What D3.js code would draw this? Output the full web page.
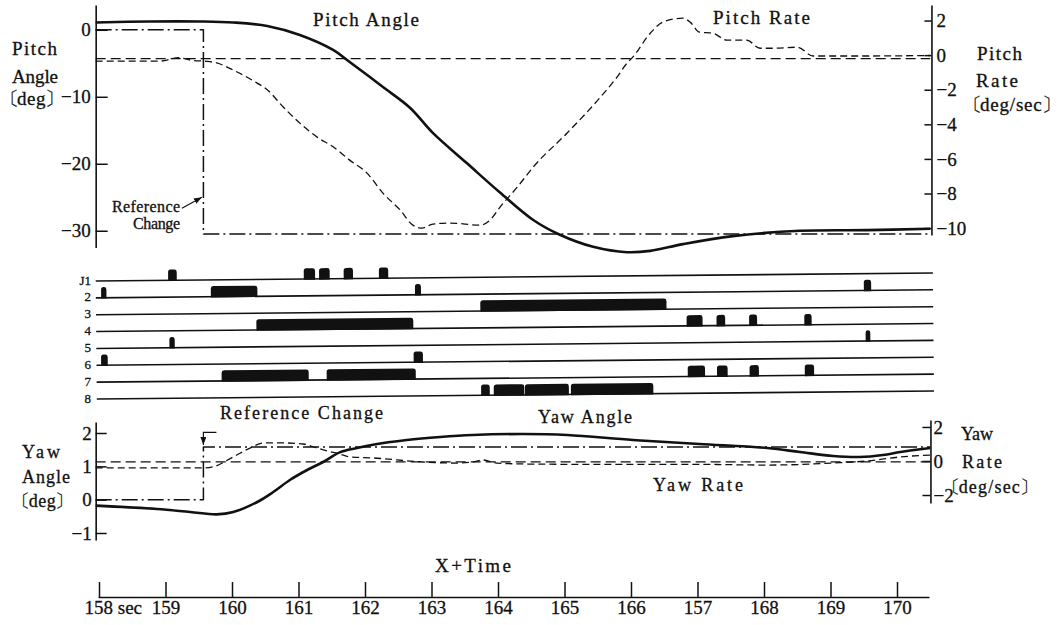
<!DOCTYPE html>
<html>
<head>
<meta charset="utf-8">
<script src="https://cdn.jsdelivr.net/npm/d3@7"></script>
<style>
  html, body { margin: 0; background: #fff; }
  svg text { font-family: "Liberation Serif", "DejaVu Serif", serif; fill: #111; stroke: #111; stroke-width: 0.3px; }
</style>
</head>
<body>
<svg id="chart" width="1061" height="625"></svg>
<script>
// ---- time axis ----
const timeTicks = [158, 159, 160, 161, 162, 163, 164, 165, 166, 167, 168, 169, 170];
const timeTickLabels = ["158 sec", "159", "160", "161", "162", "163", "164", "165", "166", "157", "168", "169", "170"];

// ---- pitch channel ----
const pitchAngleTicks = [0, -10, -20, -30];
const pitchRateTicks = [2, 0, -2, -4, -6, -8, -10];
const pitchTime = [157.95, 158.77, 159.52, 160.02, 160.53, 161.02, 161.52, 161.77, 162.27, 162.68, 163.02, 163.53,
  164.03, 164.53, 164.93, 165.43, 165.94, 166.29, 166.78, 167.53, 168.54, 169.55, 170.5];
const pitchAngle = [1.09, 1.24, 1.24, 1.09, 0.57, -0.78, -3.01, -4.81, -8.54, -11.67, -15.4, -19.9,
  -24.3, -28.4, -30.6, -32.4, -33.2, -33.0, -32.0, -30.8, -30.0, -29.9, -29.7];
const pitchRateTime = [157.95, 158.9, 159.2, 159.4, 159.59, 159.77, 160.02, 160.38, 160.53, 160.77, 161.02, 161.28,
  161.52, 161.77, 162.03, 162.27, 162.53, 162.72, 162.86, 163.02, 163.28, 163.73, 163.88, 164.03, 164.29, 164.53,
  165.04, 165.54, 165.79, 165.94, 166.03, 166.29, 166.48, 166.78, 166.89, 167.03, 167.23, 167.44, 167.74, 167.94,
  168.14, 168.5, 168.74, 169.5, 170.5];
const pitchRate = [-0.35, -0.35, -0.15, -0.3, -0.35, -0.45, -0.87, -1.62, -2.0, -3.0, -3.93, -4.74,
  -5.3, -6.07, -6.82, -7.98, -8.96, -9.83, -10.0, -9.77, -9.71, -9.83, -9.54, -8.79, -7.63, -6.47,
  -4.5, -2.43, -1.27, -0.46, -0.1, 1.27, 1.91, 2.14, 1.91, 1.33, 1.27, 0.87, 0.87, 0.4,
  0.4, 0.46, -0.05, -0.05, -0.02];
const pitchRefBefore = 0, pitchRefAfter = -30.5;
const pitchRateZero = -0.2;

// ---- reaction jet firings (start, end in seconds) ----
const jetRows = ["J1", "2", "3", "4", "5", "6", "7", "8"];
const jetJ1 = [[159.04, 159.17], [161.08, 161.25], [161.31, 161.47], [161.68, 161.82], [162.21, 162.35]];
const jet2 = [[158.03, 158.11], [159.68, 160.38], [162.75, 162.84], [169.50, 169.61]];
const jet3 = [[163.73, 166.53]];
const jet4 = [[160.36, 162.72], [166.83, 167.07], [167.28, 167.41], [167.77, 167.89], [168.60, 168.71]];
const jet5 = [[159.05, 159.13], [169.52, 169.59]];
const jet6 = [[158.02, 158.12], [162.72, 162.86]];
const jet7 = [[159.83, 161.14], [161.41, 162.75], [166.84, 167.10], [167.28, 167.44], [167.77, 167.91], [168.60, 168.74]];
const jet8 = [[163.73, 163.86], [163.92, 164.38], [164.39, 165.05], [165.08, 166.32]];

// ---- yaw channel ----
const yawAngleTicks = [2, 1, 0, -1];
const yawRateTicks = [2, 0, -2];
const yawTime = [157.95, 158.87, 159.37, 159.77, 160.02, 160.38, 160.62, 160.87, 161.13, 161.37, 161.62, 161.88,
  162.12, 162.63, 163.13, 163.62, 164.38, 165.04, 166.03, 167.03, 168.05, 168.54, 169.04, 169.44, 169.79, 170.05, 170.5];
const yawAngle = [-0.18, -0.28, -0.37, -0.44, -0.37, -0.07, 0.23, 0.59, 0.89, 1.13, 1.42, 1.55,
  1.65, 1.79, 1.88, 1.94, 1.97, 1.94, 1.79, 1.67, 1.55, 1.43, 1.31, 1.28, 1.34, 1.43, 1.55];
const yawRateTime = [157.95, 159.58, 159.71, 160.02, 160.27, 160.47, 160.77, 161.07, 161.28, 161.43, 161.62, 161.77,
  162.12, 162.87, 163.38, 163.62, 163.77, 163.98, 164.48, 165.53, 167.03, 168.05, 169.04, 169.55, 170.05, 170.5];
const yawRate = [-0.41, -0.41, -0.35, 0.24, 0.76, 1.06, 1.06, 1.0, 0.76, 0.59, 0.41, 0.24,
  0.18, -0.06, -0.12, -0.06, 0.06, -0.12, -0.18, -0.2, -0.2, -0.24, -0.12, 0.0, 0.24, 0.35];
const yawRefBefore = 0, yawRefAfter = 1.58;
const yawRateZero = -0.05;

const refChangeTime = 159.57;
const tStart = 157.95, tEnd = 170.5;

// ---- drawing ----
const ink = "#111";
const serif = '"Liberation Serif", "DejaVu Serif", serif';
const svg = d3.select("#chart");
const intFmt = d3.format("d");

const defs = svg.append("defs");
defs.append("marker").attr("id", "arrow").attr("viewBox", "0 0 8 6")
  .attr("refX", 8).attr("refY", 3).attr("markerWidth", 8).attr("markerHeight", 6)
  .attr("markerUnits", "userSpaceOnUse").attr("orient", "auto")
  .append("path").attr("d", "M0,0L8,3L0,6Z").attr("fill", ink);

const x = d3.scaleLinear().domain([158, 170]).range([99, 897]);
const axL = x(tStart);
const axR = x(tEnd) + 1.2;

const SOLID = { w: 2.6, dash: null };
const DASH = { w: 1.3, dash: "7,4" };
const ZERO = { w: 1.2, dash: "10,5" };
const DASHDOT = { w: 1.5, dash: "16,4,2,4" };

function drawSeries(g, ts, vs, y, style, curve) {
  const pts = ts.map((t, i) => [t, vs[i]]);
  g.append("path").datum(pts)
    .attr("fill", "none").attr("stroke", ink)
    .attr("stroke-width", style.w)
    .attr("stroke-dasharray", style.dash)
    .attr("stroke-linejoin", "round")
    .attr("d", d3.line().x(d => x(d[0])).y(d => y(d[1])).curve(curve || d3.curveMonotoneX));
}

function styleAxis(g, size) {
  g.selectAll("path.domain").attr("stroke", ink).attr("stroke-width", 1.6);
  g.selectAll(".tick line").attr("stroke", ink).attr("stroke-width", 1.5);
  g.selectAll(".tick text").attr("font-family", serif).attr("font-size", size).attr("fill", ink);
}

function label(txt, px, py, size, width, anchor) {
  const t = svg.append("text").attr("x", px).attr("y", py)
    .attr("font-size", size).attr("text-anchor", anchor || "start").text(txt);
  if (width) t.attr("textLength", width).attr("lengthAdjust", "spacing");
  return t;
}

// unit label wrapped in tortoise-shell brackets; px is where the opening bracket is drawn
function bracketLabel(inner, px, py, size, spacing) {
  const t = svg.append("text").attr("x", px - size * 0.55).attr("y", py).attr("font-size", size);
  t.append("tspan").text("〔");
  t.append("tspan").attr("dx", -size * 0.08).attr("letter-spacing", spacing).text(inner);
  t.append("tspan").attr("dx", -size * 0.05).text("〕");
  return t;
}

// ===== Pitch panel =====
const yPitch = d3.scaleLinear().domain([3.7, -32.5]).range([5, 247.5]);
const yPitchRate = d3.scaleLinear().domain([2.9, -10.4]).range([5, 235]);

const gPL = svg.append("g").attr("transform", `translate(${axL},0)`)
  .call(d3.axisLeft(yPitch).tickValues(pitchAngleTicks).tickFormat(intFmt)
    .tickSizeInner(-12).tickSizeOuter(0).tickPadding(5));
styleAxis(gPL, 19);
const gPR = svg.append("g").attr("transform", `translate(${axR},0)`)
  .call(d3.axisRight(yPitchRate).tickValues(pitchRateTicks).tickFormat(intFmt)
    .tickSizeInner(-7).tickSizeOuter(0).tickPadding(5));
styleAxis(gPR, 19);

const gP = svg.append("g");
drawSeries(gP, [tStart, tEnd], [pitchRateZero, pitchRateZero], yPitchRate, ZERO, d3.curveLinear);
drawSeries(gP, [tStart, refChangeTime, refChangeTime, tEnd],
  [pitchRefBefore, pitchRefBefore, pitchRefAfter, pitchRefAfter], yPitch, DASHDOT, d3.curveLinear);
drawSeries(gP, pitchRateTime, pitchRate, yPitchRate, DASH);
drawSeries(gP, pitchTime, pitchAngle, yPitch, SOLID, d3.curveCatmullRom.alpha(0.5));

// reference change note
const arrowTip = [x(refChangeTime) - 1.5, yPitch(-25)];
gP.append("line")
  .attr("x1", arrowTip[0] - 20).attr("y1", arrowTip[1] + 11)
  .attr("x2", arrowTip[0]).attr("y2", arrowTip[1])
  .attr("stroke", ink).attr("stroke-width", 1.1).attr("marker-end", "url(#arrow)");
label("Reference", 180, 212, 16, 68, "end");
label("Change", 180, 229, 16, 47, "end");

label("Pitch Angle", 313, 26, 19, 106);
label("Pitch Rate", 713, 24, 19, 97);
label("Pitch", 12, 55, 19, 45);
label("Angle", 12, 83, 19, 46);
bracketLabel("deg", 10, 105, 19, 0.5);
label("Pitch", 977, 60, 19, 45);
label("Rate", 976, 87, 19, 42);
bracketLabel("deg/sec", 973, 111, 19, 0.8);

// ===== Jet firing panel =====
const yJet = d3.scalePoint().domain(jetRows).range([281, 399]);
const jetFirings = [jetJ1, jet2, jet3, jet4, jet5, jet6, jet7, jet8];
const jetEnd = 170.54;
const gJ = svg.append("g").attr("transform", `rotate(-0.55, ${axL}, ${yJet("J1")})`);
function pulsePath(x0, x1, yb, h, r) {
  r = Math.min(r, (x1 - x0) / 2);
  return `M${x0},${yb}V${yb - h + r}Q${x0},${yb - h} ${x0 + r},${yb - h}H${x1 - r}Q${x1},${yb - h} ${x1},${yb - h + r}V${yb}Z`;
}
jetRows.forEach((row, i) => {
  const yb = yJet(row);
  gJ.append("line").attr("x1", axL).attr("x2", x(jetEnd)).attr("y1", yb).attr("y2", yb)
    .attr("stroke", ink).attr("stroke-width", 1.6);
  gJ.selectAll(null).data(jetFirings[i]).join("path")
    .attr("fill", ink)
    .attr("d", d => pulsePath(x(d[0]), x(d[1]), yb + 0.8, 11.5, 2.5));
  svg.append("text").attr("x", 91).attr("y", yb + 3.5).attr("text-anchor", "end")
    .attr("font-size", 13).text(row);
});

// ===== Yaw panel =====
const yYaw = d3.scaleLinear().domain([2.33, -1.21]).range([422, 540]);
const yYawRate = d3.scaleLinear().domain([2.41, -2.47]).range([420, 503]);

const gYL = svg.append("g").attr("transform", `translate(${axL},0)`)
  .call(d3.axisLeft(yYaw).tickValues(yawAngleTicks).tickFormat(intFmt)
    .tickSizeInner(-11).tickSizeOuter(0).tickPadding(4));
styleAxis(gYL, 19);
const gYR = svg.append("g").attr("transform", `translate(${axR - 1},0)`)
  .call(d3.axisRight(yYawRate).tickValues(yawRateTicks).tickFormat(intFmt)
    .tickSizeInner(-8).tickSizeOuter(0).tickPadding(3));
styleAxis(gYR, 19);

const gY = svg.append("g");
drawSeries(gY, [tStart, tEnd], [yawRateZero, yawRateZero], yYawRate, ZERO, d3.curveLinear);
drawSeries(gY, [tStart, refChangeTime, refChangeTime, tEnd],
  [yawRefBefore, yawRefBefore, yawRefAfter, yawRefAfter], yYaw, DASHDOT, d3.curveLinear);
drawSeries(gY, yawRateTime, yawRate, yYawRate, DASH);
drawSeries(gY, yawTime, yawAngle, yYaw, SOLID, d3.curveCatmullRom.alpha(0.5));

// reference change bracket
const xr = x(refChangeTime);
gY.append("path")
  .attr("d", `M${xr + 13},${yYaw(2.02)}H${xr}V${yYaw(1.64)}`)
  .attr("fill", "none").attr("stroke", ink).attr("stroke-width", 1.2)
  .attr("marker-end", "url(#arrow)");

label("Reference Change", 220, 419, 18, 163);
label("Yaw Angle", 538, 423, 18, 94);
label("Yaw Rate", 653, 491, 18, 90);
label("Yaw", 22, 458, 18, 38);
label("Angle", 22, 483, 18, 48);
bracketLabel("deg", 22, 507, 18, 0.5);
label("Yaw", 961, 440, 18, 32);
label("Rate", 962, 468, 18, 40);
bracketLabel("deg/sec", 952, 493, 18, 1.2);

// ===== Time axis =====
const xAxisScale = x.copy().domain([157.985, 170.48]).range([x(157.985), x(170.48)]);
const gT = svg.append("g").attr("transform", "translate(0,597)")
  .call(d3.axisBottom(xAxisScale).tickValues(timeTicks)
    .tickFormat((d, i) => timeTickLabels[i]).tickSizeInner(-15).tickSizeOuter(0).tickPadding(4));
styleAxis(gT, 19);
gT.select(".tick text").attr("text-anchor", "start").attr("x", -15);
label("X+Time", 435, 572, 19, 76);
</script>
</body>
</html>
